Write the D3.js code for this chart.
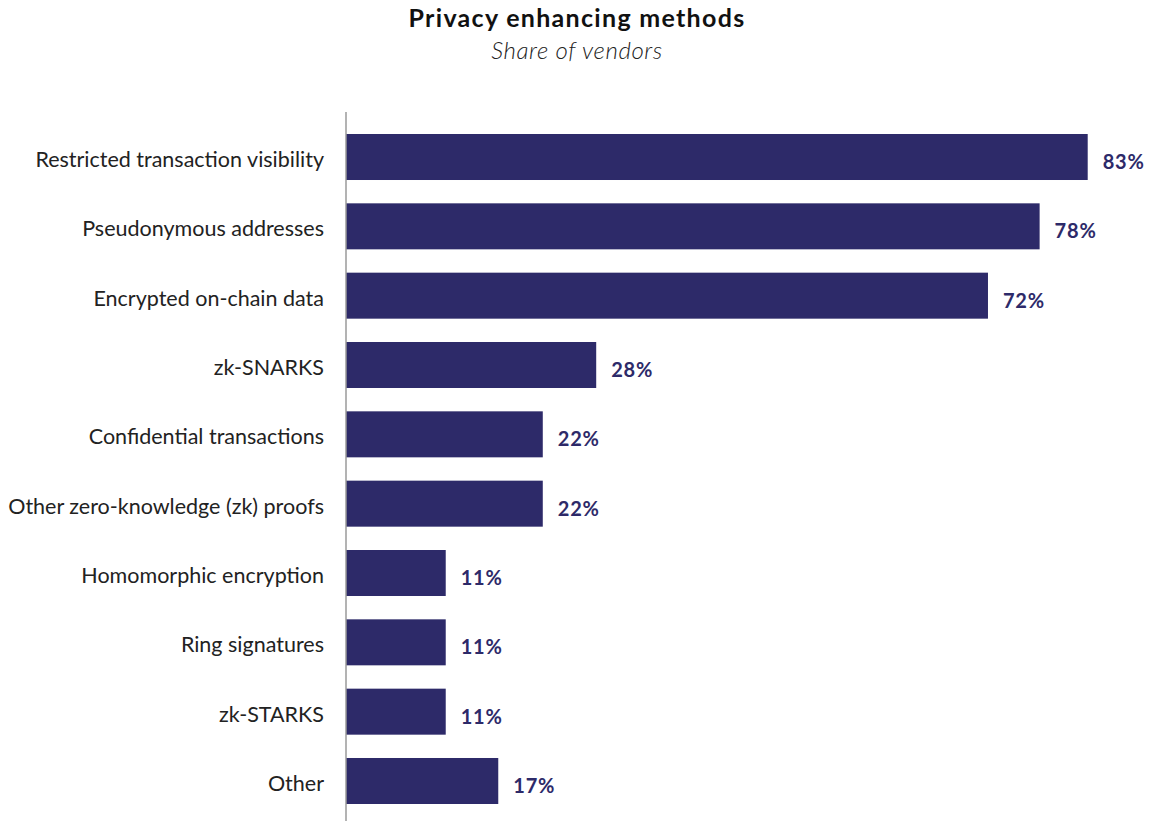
<!DOCTYPE html>
<html>
<head>
<meta charset="utf-8">
<script src="https://cdn.jsdelivr.net/npm/d3@7"></script>
<style>
  html, body { margin: 0; padding: 0; background: #fff; }
  svg { display: block; }
</style>
</head>
<body>
<svg id="chart" width="1155" height="821"></svg>
<script>
const categories = [
  "Restricted transaction visibility",
  "Pseudonymous addresses",
  "Encrypted on-chain data",
  "zk-SNARKS",
  "Confidential transactions",
  "Other zero-knowledge (zk) proofs",
  "Homomorphic encryption",
  "Ring signatures",
  "zk-STARKS",
  "Other"
];
const values = [83.3, 77.9, 72.1, 28.1, 22.1, 22.1, 11.2, 11.2, 11.2, 17.1];
const valueLabels = ["83%", "78%", "72%", "28%", "22%", "22%", "11%", "11%", "11%", "17%"];
const titleText = "Privacy enhancing methods";
const subtitleText = "Share of vendors";

const svg = d3.select("#chart");
const barColor = "#2d2a69";

const x = d3.scaleLinear().domain([0, 100]).range([346, 346 + 890.4]);
const y = d3.scaleBand().domain(categories).range([134, 804]).paddingInner(0.3365).paddingOuter(0);

// Title
svg.append("text")
  .attr("x", 577).attr("y", 27)
  .attr("text-anchor", "middle")
  .style("font-family", "Lato, sans-serif")
  .style("font-weight", "700")
  .style("font-size", "25px")
  .style("letter-spacing", "1.3px")
  .style("fill", "#111")
  .text(titleText);

svg.append("text")
  .attr("x", 577).attr("y", 59)
  .attr("text-anchor", "middle")
  .style("font-family", "Lato, sans-serif")
  .style("font-style", "italic")
  .style("font-weight", "300")
  .style("font-size", "24px")
  .style("letter-spacing", "0.6px")
  .style("fill", "#222")
  .text(subtitleText);

// Bars
svg.append("g").selectAll("rect")
  .data(categories)
  .join("rect")
  .attr("x", x(0))
  .attr("y", d => y(d))
  .attr("width", (d, i) => x(values[i]) - x(0))
  .attr("height", y.bandwidth())
  .attr("fill", barColor);

// Value labels
svg.append("g").selectAll("text")
  .data(categories)
  .join("text")
  .attr("x", (d, i) => x(values[i]) + 15)
  .attr("y", d => y(d) + y.bandwidth() / 2 + 12)
  .style("font-family", "Lato, sans-serif")
  .style("font-weight", "700")
  .style("font-size", "20px")
  .style("letter-spacing", "0.8px")
  .style("fill", barColor)
  .text((d, i) => valueLabels[i]);

// Y axis
const yAxis = d3.axisLeft(y).tickSize(0).tickPadding(22);
const gy = svg.append("g")
  .attr("transform", `translate(${x(0)},0)`)
  .call(yAxis);
gy.select(".domain").remove();
gy.selectAll("text")
  .attr("dy", "0.32em")
  .attr("transform", "translate(0,3)")
  .style("font-family", "Lato, sans-serif")
  .style("font-size", "21.5px")
  .style("fill", "#222");

svg.append("line")
  .attr("x1", x(0)).attr("x2", x(0))
  .attr("y1", 112).attr("y2", 821)
  .attr("stroke", "#9a9a9a")
  .attr("stroke-width", 1.5);
</script>
</body>
</html>
